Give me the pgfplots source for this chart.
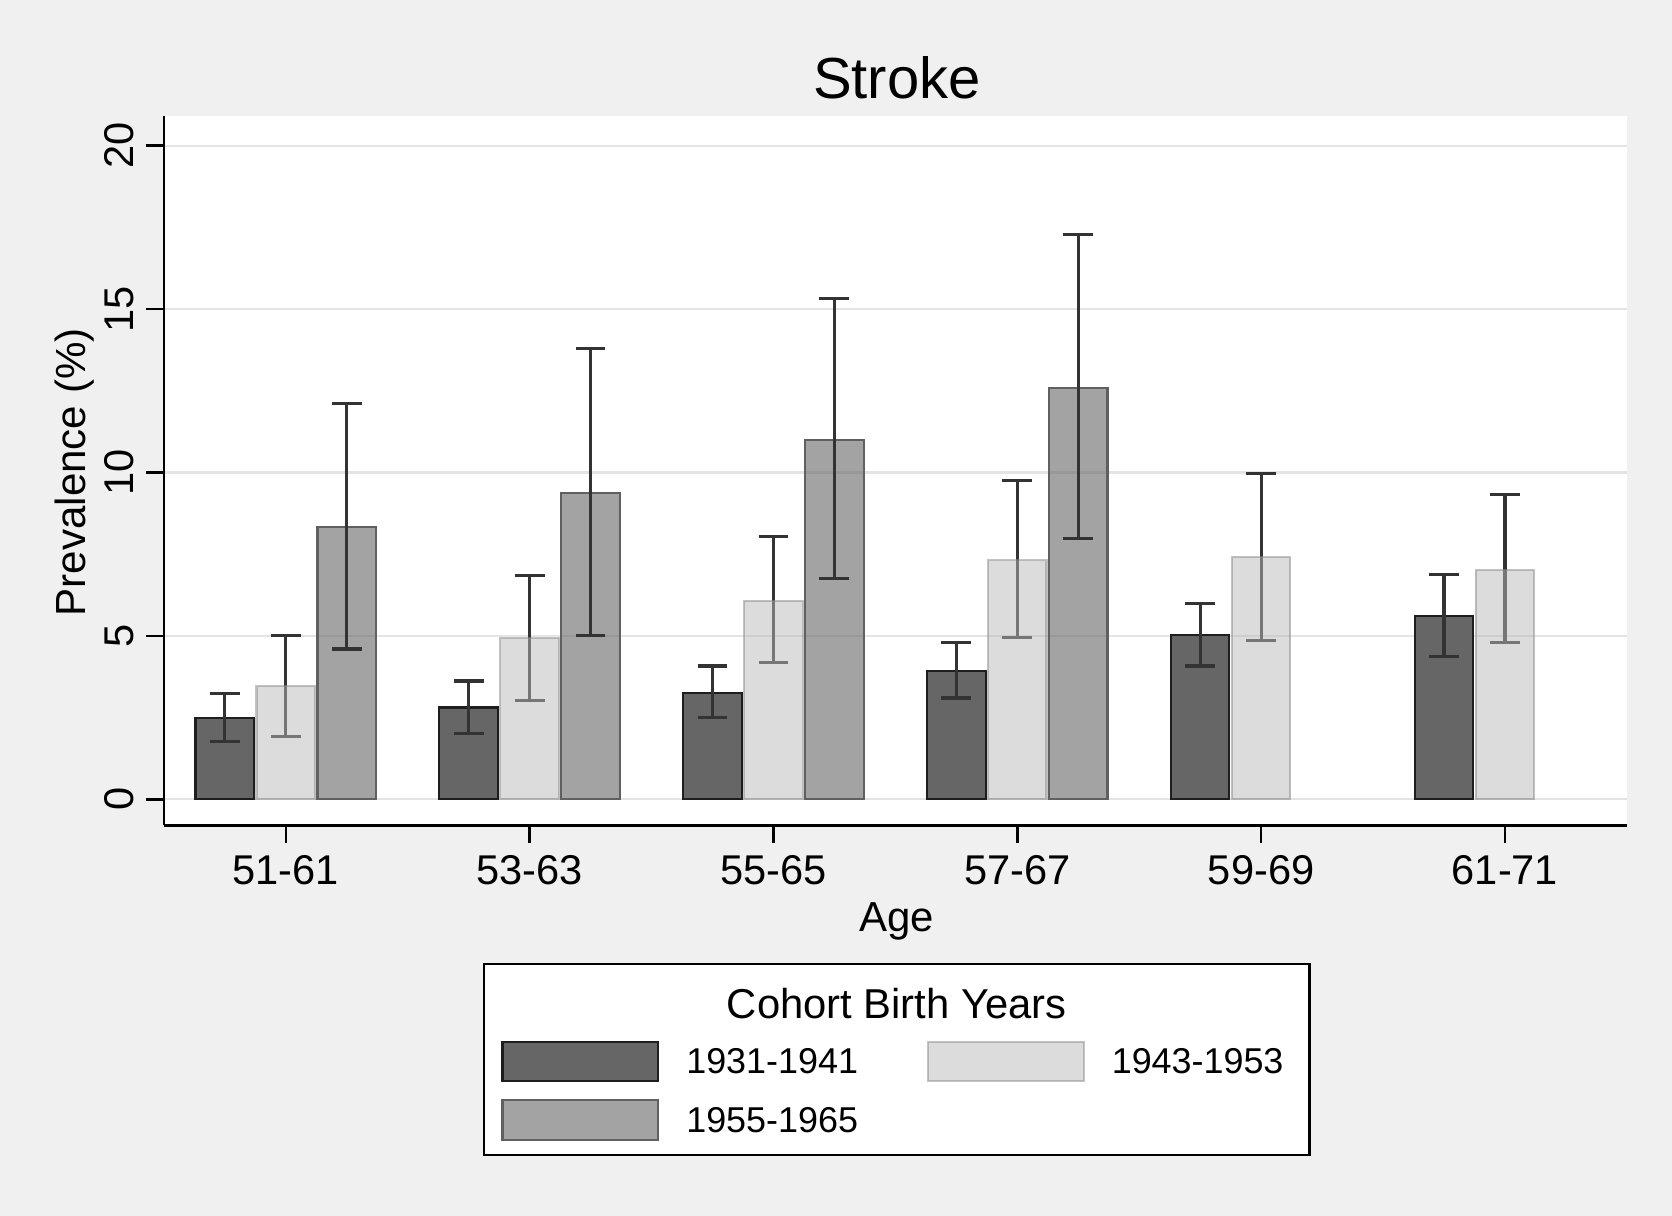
\documentclass[border=0pt]{standalone}
\usepackage{pgfplots}
\pgfplotsset{compat=1.18}
\usepackage{fontspec}
\setmainfont{Liberation Sans}
\definecolor{bg}{HTML}{F0F0F0}
\definecolor{gridc}{HTML}{E4E4E4}
\definecolor{cdark}{HTML}{666666}
\definecolor{cdarkb}{HTML}{1E1E1E}
\definecolor{clight}{HTML}{BABABA}
\definecolor{clightb}{HTML}{898989}
\definecolor{cmed}{HTML}{666666}
\definecolor{cmedb}{HTML}{606060}
\definecolor{errd}{HTML}{333333}
\begin{document}
\begin{tikzpicture}[x=1pt,y=1pt]
\fill[bg] (0,0) rectangle (470.4,342);
\draw[line width=0.7pt, fill=white] (136.2,17.1) rectangle (368.4,70.8);
\node[anchor=base, font=\fontsize{11.75}{14}\selectfont] at (252.3,55.5) {Cohort Birth Years};
\begin{axis}[
  at={(67.2,119.4)}, anchor=south west,
  scale only axis, width=411.6pt, height=199.5pt,
  xmin=-0.5, xmax=5.5, ymin=-0.8, ymax=20.9,
  axis background/.style={fill=white},
  axis lines=left, axis line style={-, line width=0.7pt, black},
  xtick={0,1,2,3,4,5},
  xticklabels={51-61,53-63,55-65,57-67,59-69,61-71},
  ytick={0,5,10,15,20},
  ymajorgrids, grid style={draw=gridc, line width=0.65pt},
  tick label style={font=\fontsize{11.7}{14}\selectfont},
  yticklabel style={rotate=90, anchor=south},
  /pgf/number format/assume math mode=true,
  tick align=outside, major tick length=5pt,
  tick style={black, line width=0.7pt},
  legend columns=2,
  legend style={at={(0.2303,-0.3023)}, anchor=north west, draw=none, fill=none,
    inner xsep=0pt, inner ysep=0pt,
    nodes={inner sep=0pt},
    font=\fontsize{10.1}{12}\selectfont,
    row sep=4.7pt,
    /tikz/every odd column/.append style={column sep=7.6pt},
    /tikz/every even column/.append style={column sep=19.4pt}},
  legend cell align=left,
  legend image code/.code={\draw[#1] (0pt,-5.0pt) rectangle (43.8pt,6.2pt);},
]
\addplot[ybar, bar width=0.24, bar shift=0, fill=cdark, draw=cdarkb, line width=0.6pt,
  error bars/.cd, y dir=both, y explicit,
  error bar style={line width=0.9pt, draw=errd},
  error mark options={rotate=90, mark size=4.2pt, line width=0.9pt, draw=errd}]
coordinates {
(-0.25,2.48) += (0,0.75) -= (0,0.72)
(0.75,2.81) += (0,0.81) -= (0,0.79)
(1.75,3.26) += (0,0.82) -= (0,0.75)
(2.75,3.92) += (0,0.88) -= (0,0.82)
(3.75,5.02) += (0,0.98) -= (0,0.94)
(4.75,5.61) += (0,1.27) -= (0,1.24)
};
\addlegendentry{1931-1941}
% error bars of the 1943-1953 cohort, drawn beneath its translucent bars
\addplot[forget plot, draw=none, mark=none,
  error bars/.cd, y dir=both, y explicit,
  error bar style={line width=0.9pt, draw=errd},
  error mark options={rotate=90, mark size=4.2pt, line width=0.9pt, draw=errd}]
coordinates {
(0,3.46) += (0,1.56) -= (0,1.54)
(1,4.93) += (0,1.92) -= (0,1.90)
(2,6.07) += (0,1.96) -= (0,1.89)
(3,7.31) += (0,2.45) -= (0,2.35)
(4,7.41) += (0,2.57) -= (0,2.55)
(5,7.01) += (0,2.32) -= (0,2.21)
};
\addplot[ybar, bar width=0.24, bar shift=0, fill=clight, draw=clightb, line width=0.6pt,
  fill opacity=0.5, draw opacity=0.5]
coordinates {
(0,3.46) (1,4.93) (2,6.07) (3,7.31) (4,7.41) (5,7.01)
};
\addlegendentry{1943-1953}
\addplot[ybar, bar width=0.24, bar shift=0, fill=cmed, fill opacity=0.6, draw=cmedb, line width=0.6pt,
  error bars/.cd, y dir=both, y explicit,
  error bar style={line width=0.9pt, draw=errd},
  error mark options={rotate=90, mark size=4.2pt, line width=0.9pt, draw=errd}]
coordinates {
(0.25,8.32) += (0,3.78) -= (0,3.72)
(1.25,9.36) += (0,4.44) -= (0,4.34)
(2.25,11.00) += (0,4.33) -= (0,4.25)
(3.25,12.59) += (0,4.70) -= (0,4.60)
};
\addlegendentry{1955-1965}
\end{axis}
\node[anchor=base, font=\fontsize{16.3}{19}\selectfont] at (252.3,314.4) {Stroke};
\node[anchor=base, font=\fontsize{11.8}{14}\selectfont] at (252.3,79.8) {Age};
\node[anchor=base, rotate=90, font=\fontsize{11.85}{14}\selectfont] at (24,209.1) {Prevalence (\%)};
\end{tikzpicture}
\end{document}
